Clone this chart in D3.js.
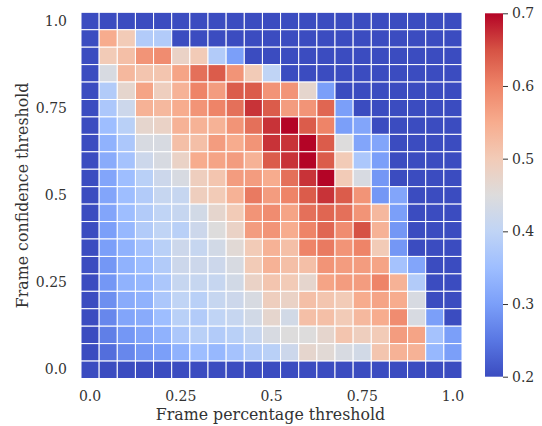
<!DOCTYPE html>
<html><head><meta charset="utf-8">
<script src="https://cdn.jsdelivr.net/npm/d3@7"></script>
<style>body{margin:0;background:#fff}svg{display:block}text{font-family:"DejaVu Serif",serif;fill:#333}</style>
</head><body>
<svg id="chart" width="542" height="426"></svg>
<script>
// x: frame percentage threshold (columns), y: frame confidence threshold (rows, top = 1.0)
const xThresholds = d3.range(21).map(i => +(i * 0.05).toFixed(2));
const yThresholds = d3.range(20, -1, -1).map(i => +(i * 0.05).toFixed(2));
const xTickValues = [0, 0.25, 0.5, 0.75, 1.0];
const xTickLabels = ["0.0", "0.25", "0.5", "0.75", "1.0"];
const yTickValues = [1.0, 0.75, 0.5, 0.25, 0];
const yTickLabels = ["1.0", "0.75", "0.5", "0.25", "0.0"];
const colorTicks = [0.2, 0.3, 0.4, 0.5, 0.6, 0.7];
const B = 0.2;
// each row listed from y = 1.0 (top) down to y = 0.0
const values = [
 [B,B,B,B,B,B,B,B,B,B,B,B,B,B,B,B,B,B,B,B,B],
 [B,0.55,0.50,0.38,0.38,B,B,B,B,B,B,B,B,B,B,B,B,B,B,B,B],
 [B,0.50,0.52,0.58,0.59,0.48,0.50,0.38,0.30,B,B,B,B,B,B,B,B,B,B,B,B],
 [B,0.44,0.53,0.51,0.51,0.56,0.62,0.64,0.58,0.50,0.40,B,B,B,B,B,B,B,B,B,B],
 [B,0.38,0.47,0.56,0.49,0.54,0.60,0.57,0.64,0.64,0.58,0.58,0.47,0.30,B,B,B,B,B,B,B],
 [B,0.37,0.42,0.54,0.53,0.55,0.58,0.60,0.62,0.67,0.64,0.57,0.58,0.63,0.30,B,B,B,B,B,B],
 [B,0.35,0.39,0.47,0.48,0.54,0.54,0.54,0.58,0.62,0.67,0.70,0.64,0.60,0.30,0.31,B,B,B,B,B],
 [B,0.33,0.37,0.44,0.44,0.52,0.52,0.57,0.55,0.58,0.67,0.67,0.70,0.64,0.45,0.31,0.31,B,B,B,B],
 [B,0.32,0.36,0.42,0.44,0.48,0.55,0.56,0.57,0.54,0.64,0.67,0.70,0.64,0.50,0.37,0.30,B,B,B,B],
 [B,0.31,0.35,0.39,0.42,0.44,0.49,0.51,0.57,0.57,0.55,0.62,0.67,0.70,0.50,0.44,0.29,B,B,B,B],
 [B,0.31,0.35,0.38,0.41,0.41,0.49,0.50,0.54,0.61,0.57,0.60,0.64,0.67,0.64,0.58,0.29,0.31,B,B,B],
 [B,0.31,0.35,0.38,0.40,0.41,0.43,0.47,0.50,0.58,0.59,0.56,0.62,0.63,0.62,0.58,0.53,0.30,B,B,B],
 [B,0.30,0.34,0.38,0.40,0.39,0.42,0.45,0.48,0.57,0.58,0.55,0.60,0.63,0.59,0.65,0.54,0.29,B,B,B],
 [B,0.30,0.33,0.36,0.39,0.42,0.41,0.43,0.46,0.50,0.54,0.52,0.60,0.61,0.58,0.60,0.50,0.29,B,B,B],
 [B,0.29,0.33,0.35,0.38,0.42,0.42,0.42,0.44,0.50,0.54,0.52,0.52,0.58,0.57,0.57,0.56,0.36,0.31,B,B],
 [B,0.29,0.33,0.34,0.37,0.41,0.41,0.41,0.43,0.48,0.51,0.50,0.47,0.56,0.57,0.57,0.60,0.54,0.38,B,B],
 [B,0.28,0.32,0.33,0.37,0.40,0.39,0.41,0.42,0.44,0.49,0.48,0.52,0.51,0.50,0.55,0.56,0.55,0.44,B,B],
 [B,0.27,0.31,0.32,0.35,0.39,0.38,0.40,0.41,0.43,0.47,0.43,0.52,0.52,0.50,0.53,0.55,0.59,0.44,0.30,B],
 [B,0.26,0.29,0.31,0.33,0.37,0.39,0.38,0.39,0.41,0.44,0.45,0.45,0.47,0.51,0.49,0.50,0.57,0.56,0.36,0.30],
 [B,0.24,0.27,0.29,0.30,0.33,0.35,0.34,0.36,0.38,0.39,0.42,0.47,0.46,0.44,0.43,0.51,0.54,0.54,0.34,0.30],
 [B,B,B,B,B,B,B,B,B,B,B,B,B,B,B,B,B,B,B,B,B]
];

const coolwarmStops = ["#3b4cc0","#5977e3","#7b9ff9","#9ebeff","#c0d4f5","#dddcdc","#f2cbb7","#f7ac8e","#ee8468","#d65244","#b40426"];
const coolwarm = d3.scaleLinear().domain(d3.range(11).map(i => i / 10)).range(coolwarmStops).interpolate(d3.interpolateRgb).clamp(true);
const color = v => coolwarm((v - 0.2) / 0.5);

const svg = d3.select("#chart");
const L = 81, R = 462, T = 12.3, Bt = 378.5;
const x = d3.scaleBand().domain(xThresholds).range([L, R]);
const y = d3.scaleBand().domain(yThresholds).range([T, Bt]);

const cells = [];
values.forEach((row, ri) => row.forEach((v, ci) => cells.push({xv: xThresholds[ci], yv: yThresholds[ri], v})));
svg.append("g").selectAll("rect").data(cells).join("rect")
  .attr("x", d => x(d.xv)).attr("y", d => y(d.yv))
  .attr("width", x.bandwidth()).attr("height", y.bandwidth())
  .attr("fill", d => color(d.v))
  .attr("stroke", "#fff").attr("stroke-width", 1);

const fs = "14px";
const xAxis = d3.axisBottom(x).tickValues(xTickValues).tickFormat((d, i) => xTickLabels[i]).tickSize(0).tickPadding(12.3);
const gx = svg.append("g").attr("transform", `translate(0,${Bt})`).call(xAxis);
gx.select(".domain").remove();
gx.selectAll("text").style("font-size", fs).style("font-family", "DejaVu Serif").attr("fill", "#333");

const yAxis = d3.axisLeft(y).tickValues(yTickValues).tickFormat((d, i) => yTickLabels[i]).tickSize(0).tickPadding(14);
const gy = svg.append("g").attr("transform", `translate(${L},0)`).call(yAxis);
gy.select(".domain").remove();
gy.selectAll("text").style("font-size", fs).style("font-family", "DejaVu Serif").attr("fill", "#333");

svg.append("text").attr("x", (L + R) / 2 - 1).attr("y", 420).attr("text-anchor", "middle")
  .style("font-size", "15.8px").text("Frame percentage threshold");
svg.append("text").attr("transform", `translate(27.5,${(T + Bt) / 2}) rotate(-90)`).attr("text-anchor", "middle")
  .style("font-size", "15.8px").text("Frame confidence threshold");

// colorbar
const cbX = 485, cbW = 18, cbT = 13.3, cbB = 376.7;
const defs = svg.append("defs");
const grad = defs.append("linearGradient").attr("id", "cw").attr("x1", 0).attr("y1", 1).attr("x2", 0).attr("y2", 0);
coolwarmStops.forEach((c, i) => grad.append("stop").attr("offset", i / 10).attr("stop-color", c));
svg.append("rect").attr("x", cbX).attr("y", cbT).attr("width", cbW).attr("height", cbB - cbT).attr("fill", "url(#cw)");
const cScale = d3.scaleLinear().domain([0.2, 0.7]).range([cbB, cbT]);
const gc = svg.append("g").attr("transform", `translate(${cbX + cbW},0)`)
  .call(d3.axisRight(cScale).tickValues(colorTicks).tickFormat(d3.format(".1f")).tickSize(5).tickPadding(4));
gc.select(".domain").remove();
gc.selectAll("line").attr("stroke", "#333");
gc.selectAll("text").style("font-size", fs).style("font-family", "DejaVu Serif").attr("fill", "#333");
</script>
</body></html>
